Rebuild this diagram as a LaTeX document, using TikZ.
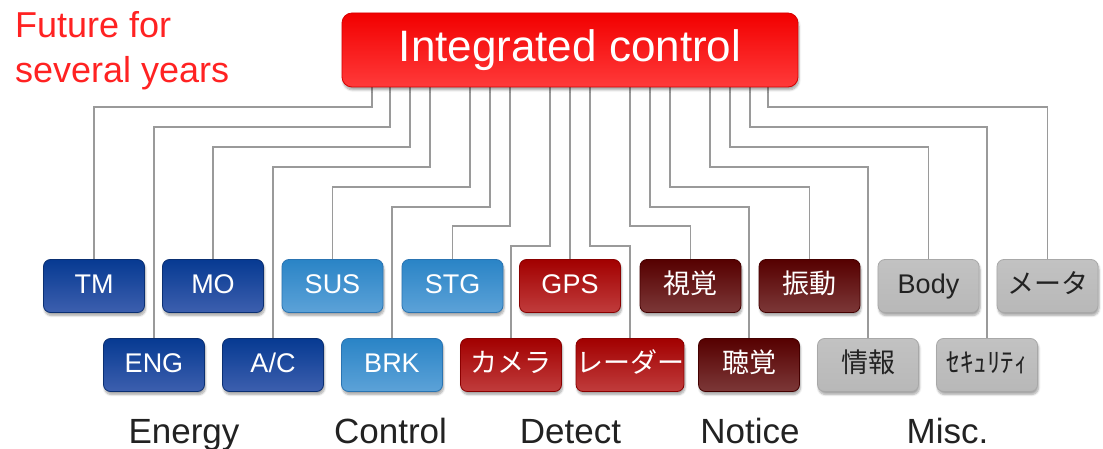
\documentclass[tikz,border=0pt]{standalone}
\usepackage{fontspec}
\setmainfont{Liberation Sans}
\newfontfamily\jp{Noto Sans CJK JP}
\usetikzlibrary{shadows.blur,backgrounds}
\definecolor{topA}{HTML}{F20000}
\definecolor{topB}{HTML}{FF3A3A}
\definecolor{topD}{HTML}{D80000}
\definecolor{enA}{HTML}{063A92}
\definecolor{enB}{HTML}{3D5FAE}
\definecolor{enD}{HTML}{0A2F72}
\definecolor{ctA}{HTML}{2A84C6}
\definecolor{ctB}{HTML}{5CA2D8}
\definecolor{ctD}{HTML}{2A74B2}
\definecolor{deA}{HTML}{A20000}
\definecolor{deB}{HTML}{C03C3C}
\definecolor{deD}{HTML}{8A0000}
\definecolor{noA}{HTML}{560000}
\definecolor{noB}{HTML}{7C3838}
\definecolor{noD}{HTML}{440000}
\definecolor{miA}{HTML}{C2C2C2}
\definecolor{miB}{HTML}{B8B8B8}
\definecolor{miD}{HTML}{A8A8A8}
\definecolor{lineC}{HTML}{9A9A9A}
\definecolor{futC}{HTML}{FF2222}
\definecolor{catC}{HTML}{222222}
\begin{document}
\begin{tikzpicture}[x=1pt,y=-1pt,
  box/.style={rounded corners=7pt, minimum width=101pt, minimum height=53pt,
    inner sep=0pt, text height=20pt, text depth=6pt,
    font=\fontsize{27}{27}\selectfont, text=white,
    blur shadow={shadow xshift=1pt, shadow yshift=-3pt, shadow opacity=35, shadow blur steps=6}},
  energy/.style={box, top color=enA, bottom color=enB, draw=enD, line width=0.8pt},
  ctrl/.style={box, top color=ctA, bottom color=ctB, draw=ctD, line width=0.8pt},
  detect/.style={box, top color=deA, bottom color=deB, draw=deD, line width=0.8pt},
  notice/.style={box, top color=noA, bottom color=noB, draw=noD, line width=0.8pt},
  misc/.style={box, top color=miA, bottom color=miB, draw=miD, line width=0.8pt, text=catC},
  conn/.style={draw=lineC, line width=1.6pt},
  cat/.style={anchor=base, font=\fontsize{35}{35}\selectfont, text=catC, inner sep=0pt},
  fut/.style={anchor=base west, font=\fontsize{36}{36}\selectfont, text=futC, inner sep=0pt}
]
\useasboundingbox (0,0) rectangle (1103,449);

\node[rounded corners=10pt, minimum width=456pt, minimum height=74pt, inner sep=0pt,
  top color=topA, bottom color=topB, draw=topD, line width=0.8pt,
  text height=32pt, text depth=8pt, text=white, font=\fontsize{44}{44}\selectfont,
  blur shadow={shadow xshift=1pt, shadow yshift=-3pt, shadow opacity=35, shadow blur steps=6}]
  (top) at (570,50) {Integrated control};

\node[fut] (fut1) at (15,38) {Future for};
\node[fut] (fut2) at (15,83) {several years};

% row 1
\node[energy] (tm)   at (94,286)   {TM};
\node[energy] (mo)   at (213,286)  {MO};
\node[ctrl]   (sus)  at (332.5,286) {SUS};
\node[ctrl]   (stg)  at (452.5,286) {STG};
\node[detect] (gps)  at (570,286)  {GPS};
\node[notice] (shikaku) at (690.5,286) {\jp 視覚};
\node[notice] (shindo)  at (809.5,286) {\jp 振動};
\node[misc]   (body) at (928.5,286) {Body};
\node[misc]   (meta) at (1047.5,286) {\jp メータ};
% row 2
\node[energy] (eng)  at (154,365) {ENG};
\node[energy] (ac)   at (273,365) {A/C};
\node[ctrl]   (brk)  at (392,365) {BRK};
\node[detect] (camera) at (511,365) {\jp カメラ};
\node[detect] (radar)  at (630,365) {\jp レーダー};
\node[notice] (chokaku) at (749,365) {\jp 聴覚};
\node[misc]   (info) at (868,365) {\jp 情報};
\node[misc]   (sec)  at (987,365) {\jp ｾｷｭﾘﾃｨ};

% categories
\node[cat] (cEnergy)  at (184,443)   {Energy};
\node[cat] (cControl) at (390.5,443) {Control};
\node[cat] (cDetect)  at (570.5,443) {Detect};
\node[cat] (cNotice)  at (750,443)   {Notice};
\node[cat] (cMisc)    at (947.5,443) {Misc.};

\begin{scope}[on background layer]
\foreach \n/\dx/\ly in {tm/-198/107, eng/-180/127, mo/-160/147, ac/-140/167,
  sus/-100/187, brk/-80/207, stg/-60/226, camera/-20/246,
  radar/20/246, shikaku/60/226, chokaku/80/207, shindo/100/187,
  info/140/167, body/160/147, sec/180/127, meta/198/107}
  \draw[conn] ([xshift=\dx pt]top.south) |- (\n.north |- 0,\ly) -- (\n.north);
\draw[conn] (top.south) -- (gps.north);
\end{scope}
\end{tikzpicture}
\end{document}
